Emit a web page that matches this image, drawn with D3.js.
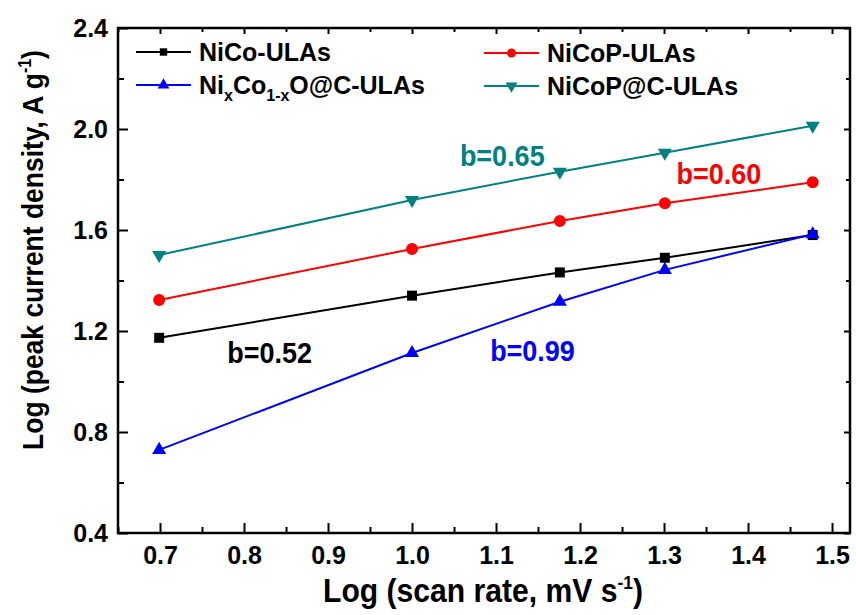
<!DOCTYPE html>
<html>
<head>
<meta charset="utf-8">
<script src="https://cdn.jsdelivr.net/npm/d3@7"></script>
<style>
  body { margin: 0; background: #fff; }
  svg text { font-family: "Liberation Sans", Arial, sans-serif; font-weight: bold; }
</style>
</head>
<body>
<div id="chart"></div>
<script>
// log of scan rate (5, 10, 15, 20, 30 mV/s)
const logScanRate = [0.699, 1.0, 1.176, 1.301, 1.477];

const niCo      = [1.173, 1.340, 1.432, 1.490, 1.580];
const niCoP     = [1.323, 1.525, 1.636, 1.706, 1.789];
const niCoOC    = [0.729, 1.113, 1.316, 1.442, 1.583];
const niCoPC    = [1.501, 1.719, 1.831, 1.906, 2.013];

const xTicks = [0.7, 0.8, 0.9, 1.0, 1.1, 1.2, 1.3, 1.4, 1.5];
const yTicks = [0.4, 0.8, 1.2, 1.6, 2.0, 2.4];

const seriesNames  = ['NiCo-ULAs', 'NiCoP-ULAs', 'NixCo1-xO@C-ULAs', 'NiCoP@C-ULAs'];
const bLabels      = ['b=0.52', 'b=0.60', 'b=0.99', 'b=0.65'];
const bLabelX      = [0.78, 1.315, 1.093, 1.057];
const bLabelY      = [1.073, 1.781, 1.082, 1.855];

class ScanRatePlot {
    constructor() {
        this.margin = { top: 28, right: 6, bottom: 82, left: 118 };
        this.width = 856 - this.margin.left - this.margin.right;
        this.height = 615 - this.margin.top - this.margin.bottom;
        this.series = [
            { name: seriesNames[0], values: niCo,   color: '#000000', marker: d3.symbolSquare,   size: 100, legendSize: 55 },
            { name: seriesNames[1], values: niCoP,  color: '#ff0000', marker: d3.symbolCircle,   size: 113, legendSize: 64 },
            { name: seriesNames[2], values: niCoOC, color: '#0000ff', marker: d3.symbolTriangle, size: 85,  legendSize: 60 },
            { name: seriesNames[3], values: niCoPC, color: '#008080', marker: d3.symbolTriangle, size: 85,  legendSize: 60, flip: true }
        ];
        this.drawPlot();
    }

    drawPlot() {
        this.svg = d3.select('#chart')
            .append('svg')
            .attr('width', 856)
            .attr('height', 615);

        let g = this.svg.append('g')
            .attr('transform', 'translate(' + this.margin.left + ',' + this.margin.top + ')');

        let x = d3.scaleLinear().domain([0.65, 1.5214]).range([0, this.width]);
        let y = d3.scaleLinear().domain([0.4, 2.4]).range([this.height, 0]);

        let minorX = d3.range(0.65, 1.52, 0.05).filter(v => Math.abs(v * 10 - Math.round(v * 10)) > 0.01);
        let minorY = [0.6, 1.0, 1.4, 1.8, 2.2];

        // axes: major ticks with labels, minor ticks without, all pointing in
        g.append('g').attr('transform', 'translate(0,' + this.height + ')')
            .call(d3.axisBottom(x).tickValues(xTicks).tickFormat(d3.format('.1f')).tickSizeInner(-10).tickSizeOuter(0).tickPadding(13));
        g.append('g').attr('transform', 'translate(0,' + this.height + ')')
            .call(d3.axisBottom(x).tickValues(minorX).tickFormat('').tickSizeInner(-6).tickSizeOuter(0));
        g.append('g')
            .call(d3.axisLeft(y).tickValues(yTicks).tickFormat(d3.format('.1f')).tickSizeInner(-10).tickSizeOuter(0).tickPadding(10));
        g.append('g')
            .call(d3.axisLeft(y).tickValues(minorY).tickFormat('').tickSizeInner(-6).tickSizeOuter(0));
        g.append('g')
            .call(d3.axisTop(x).tickValues(xTicks).tickFormat('').tickSizeInner(-6).tickSizeOuter(0));
        g.append('g')
            .call(d3.axisTop(x).tickValues(minorX).tickFormat('').tickSizeInner(-4).tickSizeOuter(0));
        g.append('g').attr('transform', 'translate(' + this.width + ',0)')
            .call(d3.axisRight(y).tickValues(yTicks).tickFormat('').tickSizeInner(-6).tickSizeOuter(0));
        g.append('g').attr('transform', 'translate(' + this.width + ',0)')
            .call(d3.axisRight(y).tickValues(minorY).tickFormat('').tickSizeInner(-4).tickSizeOuter(0));

        g.selectAll('.domain').remove();
        g.selectAll('.tick line').attr('stroke', '#000').attr('stroke-width', 2);
        g.selectAll('.tick text').attr('fill', '#000').style('font-size', '25px');

        g.append('rect')
            .attr('width', this.width).attr('height', this.height)
            .attr('fill', 'none').attr('stroke', '#000').attr('stroke-width', 2.5);

        // series
        let line = d3.line().x((d, i) => x(logScanRate[i])).y(d => y(d));
        this.series.forEach(s => {
            g.append('path')
                .datum(s.values)
                .attr('d', line)
                .attr('fill', 'none')
                .attr('stroke', s.color)
                .attr('stroke-width', 2);
            g.selectAll(null)
                .data(s.values)
                .enter().append('path')
                .attr('d', d3.symbol().type(s.marker).size(s.size))
                .attr('transform', (d, i) => 'translate(' + x(logScanRate[i]) + ',' + y(d) + ')' + (s.flip ? ' rotate(180)' : ''))
                .attr('fill', s.color);
        });

        // b labels (slightly condensed like the original)
        const bColors = ['#000000', '#ff0000', '#0000ff', '#008080'];
        bLabels.forEach((t, i) => {
            g.append('text')
                .attr('transform', 'translate(' + x(bLabelX[i]) + ',' + y(bLabelY[i]) + ') scale(0.9,1)')
                .attr('fill', bColors[i])
                .style('font-size', '30px')
                .text(t);
        });

        // legend
        const legendPos = [[18, 24], [366, 25], [18, 57], [366, 58]];
        this.series.forEach((s, i) => {
            let lg = g.append('g').attr('transform', 'translate(' + legendPos[i][0] + ',' + legendPos[i][1] + ')');
            lg.append('line').attr('x1', 0).attr('x2', 55).attr('stroke', s.color).attr('stroke-width', 2);
            lg.append('path')
                .attr('d', d3.symbol().type(s.marker).size(s.legendSize))
                .attr('transform', 'translate(27.5,0)' + (s.flip ? ' rotate(180)' : ''))
                .attr('fill', s.color);
            let txt = lg.append('text').attr('x', 63).attr('y', 9).style('font-size', '25px').attr('fill', '#000');
            if (i === 2) {
                txt.append('tspan').text('Ni');
                txt.append('tspan').text('x').style('font-size', '16px').attr('dy', 7);
                txt.append('tspan').text('Co').attr('dy', -7);
                txt.append('tspan').text('1-x').style('font-size', '16px').attr('dy', 7);
                txt.append('tspan').text('O@C-ULAs').attr('dy', -7);
            } else {
                txt.text(s.name);
            }
        });

        // axis titles
        let xt = this.svg.append('text')
            .attr('text-anchor', 'middle')
            .style('font-size', '33px')
            .attr('fill', '#000');
        xt.append('tspan').text('Log (scan rate, mV s');
        xt.append('tspan').text('-1').style('font-size', '19px').attr('dy', -13);
        xt.append('tspan').text(')').attr('dy', 13);
        let xw = xt.node().getComputedTextLength();
        xt.attr('transform', 'translate(483,602) scale(' + (320 / xw) + ',1)');

        let yt = this.svg.append('text')
            .attr('text-anchor', 'middle')
            .style('font-size', '30px')
            .attr('fill', '#000');
        yt.append('tspan').text('Log (peak current density, A g');
        yt.append('tspan').text('-1').style('font-size', '18px').attr('dy', -12);
        yt.append('tspan').text(')').attr('dy', 12);
        let yw = yt.node().getComputedTextLength();
        yt.attr('transform', 'translate(43,250) rotate(-90) scale(' + (400 / yw) + ',1)');
    }
}

new ScanRatePlot();
</script>
</body>
</html>
